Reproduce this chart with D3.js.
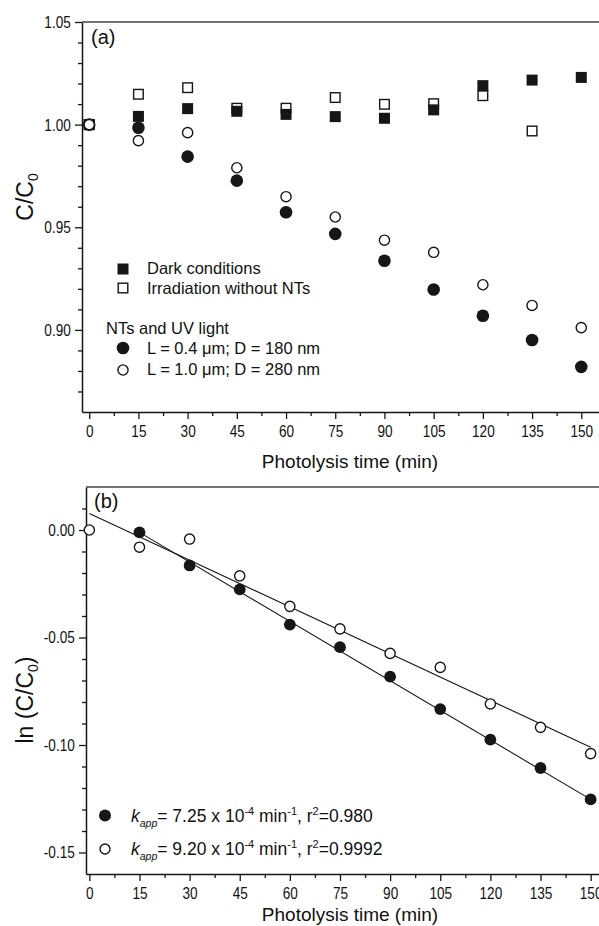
<!DOCTYPE html>
<html><head><meta charset="utf-8">
<script src="https://cdn.jsdelivr.net/npm/d3@7"></script>
<style>
body{margin:0;background:#fff}
svg{display:block}
text{font-family:"Liberation Sans",Arial,Helvetica,sans-serif;fill:#111}
</style>
</head><body>
<svg id="chart" width="599" height="926"></svg>
<script>
// ---------- data ----------
const times = [0, 15, 30, 45, 60, 75, 90, 105, 120, 135, 150];
// panel (a): C/C0
const darkConditions   = [1.000, 1.004, 1.0078, 1.0065, 1.005, 1.0039, 1.0031, 1.0072, 1.019, 1.0217, 1.023];
const irradiationNoNTs = [1.000, 1.0148, 1.018, 1.008, 1.008, 1.0132, 1.0099, 1.0102, 1.0141, 0.9969, null];
const nt04 = [1.000, 0.9985, 0.9844, 0.9727, 0.9573, 0.9468, 0.9337, 0.9197, 0.9069, 0.8951, 0.8820];
const nt10 = [1.000, 0.9922, 0.9961, 0.9790, 0.9649, 0.9550, 0.9437, 0.9378, 0.9220, 0.9119, 0.9011];
// panel (b): ln(C/C0)
const lnNt04 = [null, -0.0011, -0.0165, -0.0276, -0.0440, -0.0545, -0.0682, -0.0833, -0.0975, -0.1107, -0.1253];
const lnNt10 = [0.000, -0.0080, -0.0042, -0.0213, -0.0355, -0.0460, -0.0574, -0.0639, -0.0809, -0.0918, -0.1040];
// fitted lines (time range and end values)
const fitTimes  = [[15, 150], [0, 150]];
const fitValues = [[-0.0011, -0.1253], [0.0077, -0.1010]];
// ticks
const xMajorTicks = [0, 15, 30, 45, 60, 75, 90, 105, 120, 135, 150];
const xMinorTicks = [7.5, 22.5, 37.5, 52.5, 67.5, 82.5, 97.5, 112.5, 127.5, 142.5];
const yMajorTicksA = [0.90, 0.95, 1.00, 1.05];
const yMinorTicksA = [0.87, 0.88, 0.89, 0.91, 0.92, 0.93, 0.94, 0.96, 0.97, 0.98, 0.99, 1.01, 1.02, 1.03, 1.04];
const yMajorTicksB = [-0.15, -0.10, -0.05, 0.00];
const yMinorTicksB = [-0.14, -0.13, -0.12, -0.11, -0.09, -0.08, -0.07, -0.06, -0.04, -0.03, -0.02, -0.01, 0.01];
const legendA = ["Dark conditions", "Irradiation without NTs", "NTs and UV light", "L = 0.4 \u03bcm; D = 180 nm", "L = 1.0 \u03bcm; D = 280 nm"];
const legendB = [["7.25", "0.980"], ["9.20", "0.9992"]];
const xTitle = "Photolysis time (min)";

// ---------- drawing ----------
const svg = d3.select("#chart");
const INK = "#161616";
const W = 599;

function drawAxes(g, x, y, box, xMaj, xMin, yMaj, yMin, yFmt) {
  const ax = g.append("g").attr("transform", `translate(0,${box.bottom})`)
    .call(d3.axisBottom(x).tickValues(xMaj).tickSize(7).tickPadding(6).tickSizeOuter(0).tickFormat(d3.format("d")));
  g.append("g").attr("transform", `translate(0,${box.bottom})`)
    .call(d3.axisBottom(x).tickValues(xMin).tickSize(4).tickFormat(""))
    .call(s => s.select(".domain").remove());
  const ay = g.append("g").attr("transform", `translate(${box.left},0)`)
    .call(d3.axisLeft(y).tickValues(yMaj).tickSize(7).tickPadding(7).tickSizeOuter(0).tickFormat(yFmt));
  g.append("g").attr("transform", `translate(${box.left},0)`)
    .call(d3.axisLeft(y).tickValues(yMin).tickSize(4).tickFormat(""))
    .call(s => s.select(".domain").remove());
  g.selectAll(".tick line").attr("stroke", INK).attr("stroke-width", 1.3);
  g.selectAll(".domain").attr("stroke", INK).attr("stroke-width", 1.5);
  [ax, ay].forEach(a => a.selectAll("text")
    .attr("font-size", 17).attr("font-family", '"Liberation Sans",Arial,sans-serif')
    .attr("fill", "#222").attr("transform", "scale(0.8,1)"));
  // top frame
  g.append("line").attr("x1", box.left).attr("x2", W).attr("y1", box.top).attr("y2", box.top)
    .attr("stroke", "#444").attr("stroke-width", 1.5);
}

// ===== panel (a) =====
const boxA = {left: 82, top: 22, bottom: 412};
const xA = d3.scaleLinear().domain([-2.2, 155.4]).range([boxA.left, W]);
const yA = d3.scaleLinear().domain([0.86, 1.05]).range([boxA.bottom, boxA.top]);
const gA = svg.append("g");
drawAxes(gA, xA, yA, boxA, xMajorTicks, xMinorTicks, yMajorTicksA, yMinorTicksA, d => d.toFixed(2));

const sqF = 11, sqO = 9.6;
const ptsA = (arr) => times.map((t, i) => ({t, v: arr[i]})).filter(d => d.v !== null);
gA.append("g").selectAll("rect").data(ptsA(irradiationNoNTs)).join("rect")
  .attr("x", d => xA(d.t) - sqO/2).attr("y", d => yA(d.v) - sqO/2)
  .attr("width", sqO).attr("height", sqO).attr("fill", "none").attr("stroke", INK).attr("stroke-width", 1.4);
gA.append("g").selectAll("rect").data(ptsA(darkConditions)).join("rect")
  .attr("x", d => xA(d.t) - sqF/2).attr("y", d => yA(d.v) - sqF/2)
  .attr("width", sqF).attr("height", sqF).attr("fill", INK);
gA.append("g").selectAll("circle").data(ptsA(nt04)).join("circle")
  .attr("cx", d => xA(d.t)).attr("cy", d => yA(d.v)).attr("r", 6.3).attr("fill", INK);
gA.append("g").selectAll("circle").data(ptsA(nt10)).join("circle")
  .attr("cx", d => xA(d.t)).attr("cy", d => yA(d.v)).attr("r", 5.1)
  .attr("fill", "#fff").attr("stroke", INK).attr("stroke-width", 1.4);

// legend (a)
const lgA = gA.append("g").attr("font-size", 16.5);
lgA.append("rect").attr("x", 123 - sqF/2).attr("y", 269 - sqF/2).attr("width", sqF).attr("height", sqF).attr("fill", INK);
lgA.append("rect").attr("x", 123 - sqO/2).attr("y", 288 - sqO/2).attr("width", sqO).attr("height", sqO)
  .attr("fill", "none").attr("stroke", INK).attr("stroke-width", 1.4);
lgA.append("circle").attr("cx", 123).attr("cy", 348).attr("r", 6.3).attr("fill", INK);
lgA.append("circle").attr("cx", 123).attr("cy", 370).attr("r", 5.1).attr("fill", "#fff").attr("stroke", INK).attr("stroke-width", 1.4);
lgA.append("text").attr("x", 147).attr("y", 274).text(legendA[0]);
lgA.append("text").attr("x", 147).attr("y", 293.5).text(legendA[1]);
lgA.append("text").attr("x", 106).attr("y", 333.5).text(legendA[2]);
lgA.append("text").attr("x", 147).attr("y", 353.5).text(legendA[3]);
lgA.append("text").attr("x", 147).attr("y", 375).text(legendA[4]);

gA.append("text").attr("x", 91).attr("y", 43.5).attr("font-size", 20).text("(a)");
gA.append("text").attr("x", 350).attr("y", 468).attr("text-anchor", "middle").attr("font-size", 19).text(xTitle);
const ylA = gA.append("text").attr("transform", "translate(33,197) rotate(-90)")
  .attr("text-anchor", "middle").attr("font-size", 23);
ylA.append("tspan").text("C/C");
ylA.append("tspan").attr("font-size", 14).attr("dy", 5).text("0");

// ===== panel (b) =====
const boxB = {left: 86, top: 487, bottom: 874};
const xB = d3.scaleLinear().domain([-1, 152.5]).range([boxB.left, W]);
const yB = d3.scaleLinear().domain([-0.16, 0.02]).range([boxB.bottom, boxB.top]);
const gB = svg.append("g");
drawAxes(gB, xB, yB, boxB, xMajorTicks, xMinorTicks, yMajorTicksB, yMinorTicksB, d => d.toFixed(2));

const fitLine = d3.line().x(d => xB(d[0])).y(d => yB(d[1]));
fitTimes.forEach((tt, i) => {
  gB.append("path").attr("d", fitLine([[tt[0], fitValues[i][0]], [tt[1], fitValues[i][1]]]))
    .attr("fill", "none").attr("stroke", INK).attr("stroke-width", 1.1);
});
gB.append("g").selectAll("circle").data(ptsA(lnNt10)).join("circle")
  .attr("cx", d => xB(d.t)).attr("cy", d => yB(d.v)).attr("r", 5.1)
  .attr("fill", "#fff").attr("stroke", INK).attr("stroke-width", 1.4);
gB.append("g").selectAll("circle").data(ptsA(lnNt04)).join("circle")
  .attr("cx", d => xB(d.t)).attr("cy", d => yB(d.v)).attr("r", 5.9).attr("fill", INK);

// legend (b)
const lgB = gB.append("g").attr("font-size", 17.5);
lgB.append("circle").attr("cx", 105).attr("cy", 815.5).attr("r", 6).attr("fill", INK);
lgB.append("circle").attr("cx", 105).attr("cy", 849).attr("r", 5).attr("fill", "#fff").attr("stroke", INK).attr("stroke-width", 1.4);
[821.5, 855].forEach((yy, i) => {
  const t = lgB.append("text").attr("x", 131).attr("y", yy);
  t.append("tspan").attr("font-style", "italic").text("k");
  t.append("tspan").attr("font-style", "italic").attr("font-size", 10.5).attr("dy", 5).text("app");
  t.append("tspan").attr("dy", -5).text("= " + legendB[i][0] + " x 10");
  t.append("tspan").attr("font-size", 11).attr("dy", -7).text("-4");
  t.append("tspan").attr("dy", 7).text(" min");
  t.append("tspan").attr("font-size", 11).attr("dy", -7).text("-1");
  t.append("tspan").attr("dy", 7).text(", r");
  t.append("tspan").attr("font-size", 11).attr("dy", -7).text("2");
  t.append("tspan").attr("dy", 7).text("=" + legendB[i][1]);
});

gB.append("text").attr("x", 94).attr("y", 508).attr("font-size", 20).text("(b)");
gB.append("text").attr("x", 350).attr("y", 921).attr("text-anchor", "middle").attr("font-size", 19).text(xTitle);
const ylB = gB.append("text").attr("transform", "translate(33,700) rotate(-90)")
  .attr("text-anchor", "middle").attr("font-size", 23);
ylB.append("tspan").text("ln (C/C");
ylB.append("tspan").attr("font-size", 14).attr("dy", 5).text("0");
ylB.append("tspan").attr("dy", -5).text(")");
</script>
</body></html>
